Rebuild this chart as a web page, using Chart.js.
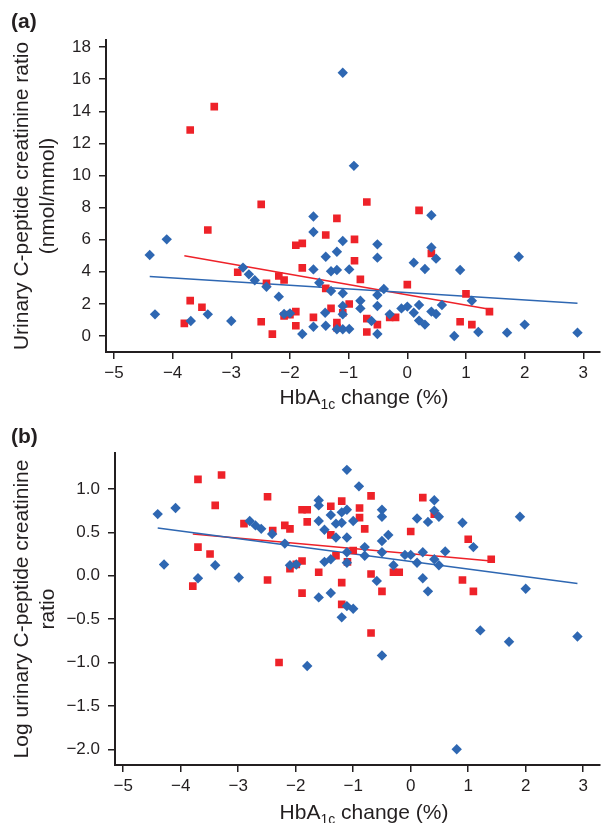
<!DOCTYPE html>
<html>
<head>
<meta charset="utf-8">
<script src="https://cdn.jsdelivr.net/npm/chart.js@4/dist/chart.umd.min.js"></script>
<style>
  html, body { margin: 0; padding: 0; background: #ffffff; }
  #wrap { position: relative; width: 605px; height: 823px; }
  canvas { position: absolute; left: 0; }
</style>
</head>
<body>
<div id="wrap">
  <canvas id="chartA" width="605" height="420" style="top:0px"></canvas>
  <canvas id="chartB" width="605" height="403" style="top:420px"></canvas>
</div>
<script>
// ---------- Panel (a): urinary C-peptide creatinine ratio ----------
const aBlueX = [-1.10, -0.91, -4.39, -4.10, -4.30, -3.69, -3.40, -3.00, -2.80, -2.70,
                -2.60, -2.40, -2.19, -2.10, -2.00, -1.79, -1.60, -1.60, -1.60, -1.60,
                -1.50, -1.40, -1.39, -1.39, -1.30, -1.30, -1.20, -1.20, -1.20, -1.10,
                -1.10, -1.10, -1.10, -1.10, -0.99, -0.99, 0.41, -0.51, -0.51, 0.41,
                0.49, 0.11, 0.30, 0.90, 1.90, -0.40, -0.51, -0.80, -0.80, -0.51,
                -0.30, -0.10, 0.00, 0.11, 0.20, 0.41, 0.49, 0.59, 1.10, -0.61,
                0.20, 0.30, -0.51, 0.80, 1.21, 1.70, 2.00, 2.90];
const aBlueY = [16.4, 10.6, 5.05, 6.02, 1.35, 0.93, 1.35, 0.93, 4.26, 3.84,
                3.47, 3.07, 2.45, 1.37, 1.41, 0.12, 7.44, 6.48, 4.15, 0.58,
                3.32, 1.45, 4.94, 0.64, 2.80, 4.03, 4.11, 5.25, 0.42, 5.92,
                2.66, 1.87, 1.35, 0.42, 4.15, 0.44, 7.52, 5.71, 4.88, 5.52,
                4.82, 4.57, 4.17, 4.11, 4.94, 2.93, 2.55, 2.20, 1.72, 1.87,
                1.35, 1.72, 1.83, 1.45, 1.93, 1.52, 1.37, 1.93, 2.20, 0.93,
                0.96, 0.71, 0.12, 0.00, 0.25, 0.21, 0.71, 0.21];
const aRedX = [-3.29, -3.70, -2.49, -3.40, -1.20, -1.39, -0.90, -1.90, -1.79, -0.90,
               -1.79, -2.89, -2.40, -2.19, -2.10, -1.39, -1.30, -0.99, -1.10, -0.80,
               -3.70, -3.50, -3.80, -2.49, -2.30, -2.10, -2.00, -1.90, -1.90, -1.60,
               -1.20, -1.20, -0.69, 0.20, 0.41, 0.00, 1.00, 1.40, -0.69, -0.30,
               -0.20, -0.51, 0.90, 1.10, -0.69];
const aRedY = [14.29, 12.83, 8.20, 6.60, 7.33, 6.29, 6.02, 5.65, 5.77, 4.69,
               4.24, 3.97, 3.28, 3.74, 3.49, 2.97, 1.72, 1.99, 1.45, 3.53,
               2.20, 1.79, 0.79, 0.89, 0.12, 1.25, 1.33, 1.52, 0.64, 1.16,
               0.83, 0.52, 8.35, 7.83, 5.15, 3.20, 2.62, 1.52, 1.08, 1.16,
               1.16, 0.71, 0.89, 0.71, 0.25];
const aBlueFitX = [-4.39, 2.90];
const aBlueFitY = [3.70, 2.04];
const aRedFitX = [-3.80, 1.40];
const aRedFitY = [5.00, 1.66];
const aYTicks = [0, 2, 4, 6, 8, 10, 12, 14, 16, 18];

// ---------- Panel (b): log urinary C-peptide creatinine ratio ----------
const bBlueX = [-1.11, -4.40, -4.09, -4.29, -3.70, -3.40, -2.99, -2.80, -2.70, -2.60,
                -2.41, -2.19, -2.10, -1.99, -1.80, -1.60, -1.60, -1.60, -1.60, -1.50,
                -1.50, -1.39, -1.39, -1.39, -1.30, -1.30, -1.20, -1.20, -1.11, -1.11,
                -1.11, -1.11, -1.11, -1.20, -1.00, -1.00, -0.90, 0.41, 0.41, 0.49,
                1.90, 0.90, 0.11, 0.30, -0.50, -0.50, -0.39, -0.50, -0.80, -0.80,
                -0.50, -0.30, -0.10, 0.00, 0.11, 0.21, 0.41, 0.49, 0.60, 1.09,
                -0.59, 0.21, 0.30, 2.00, 1.21, 1.71, 2.90, -0.50, 0.80];
const bBlueY = [1.22, 0.71, 0.78, 0.13, -0.03, 0.12, -0.02, 0.63, 0.58, 0.54,
                0.48, 0.37, 0.12, 0.13, -1.04, 0.87, 0.81, 0.63, -0.25, 0.53,
                0.16, 0.70, 0.19, -0.20, 0.60, 0.44, 0.61, 0.73, 0.76, 0.44,
                0.27, 0.15, -0.35, -0.48, -0.38, 0.63, 1.03, 0.87, 0.75, 0.68,
                0.68, 0.61, 0.66, 0.62, 0.76, 0.68, 0.47, 0.40, 0.33, 0.23,
                0.27, 0.12, 0.24, 0.24, 0.15, 0.27, 0.19, 0.12, 0.28, 0.33,
                -0.06, -0.03, -0.18, -0.15, -0.63, -0.76, -0.70, -0.92, -2.00];
const bRedX = [-3.70, -3.29, -3.40, -2.49, -2.90, -3.70, -3.49, -3.79, -2.49, -2.40,
               -2.19, -2.10, -2.29, -1.89, -1.80, -1.80, -1.99, -1.89, -2.10, -1.89,
               -1.60, -1.39, -1.39, -1.30, -1.20, -1.20, -1.20, -1.10, -1.00, -0.89,
               -0.89, -0.69, 0.21, -0.80, 0.41, 0.00, 1.00, 1.40, -0.69, -0.30,
               -0.20, -0.50, 0.90, 1.09, -0.69];
const bRedY = [1.11, 1.16, 0.81, 0.91, 0.60, 0.33, 0.25, -0.12, -0.05, 0.52,
               0.58, 0.54, -1.00, 0.76, 0.76, 0.62, 0.13, 0.17, 0.08, -0.20,
               0.04, 0.80, 0.47, 0.23, 0.86, -0.08, -0.33, 0.16, 0.29, 0.78,
               0.67, 0.92, 0.90, 0.54, 0.71, 0.51, 0.42, 0.19, 0.02, 0.04,
               0.04, -0.18, -0.05, -0.18, -0.66];
const bBlueFitX = [-4.40, 2.90];
const bBlueFitY = [0.55, -0.09];
const bRedFitX = [-3.79, 1.40];
const bRedFitY = [0.48, 0.17];
const bYTicks = [-2.0, -1.5, -1.0, -0.5, 0.0, 0.5, 1.0];

// ---------- shared ----------
const xTicks = [-5, -4, -3, -2, -1, 0, 1, 2, 3];
const xTitleParts = ['HbA', '1c', ' change (%)'];
const aYTitle = ['Urinary C-peptide creatinine ratio', '(nmol/mmol)'];
const bYTitle = ['Log urinary C-peptide creatinine', 'ratio'];

const BLUE = '#2e67b2';
const RED = '#ee2229';
const AXIS = '#231f20';
const TEXT = '#231f20';
const FONT = "'Liberation Sans', Arial, Helvetica, sans-serif";

function pts(xs, ys) { return xs.map((x, i) => ({ x: x, y: ys[i] })); }
function minus(s) { return String(s).replace('-', '\u2212'); }

function panelPlugin(label, labelBaseline, titleCx, titleBaseline) {
  return {
    id: 'panelText',
    afterDraw(chart) {
      const ctx = chart.ctx;
      ctx.save();
      ctx.fillStyle = TEXT;
      ctx.textBaseline = 'alphabetic';
      ctx.textAlign = 'left';
      ctx.font = 'bold 21px ' + FONT;
      ctx.fillText(label, 11, labelBaseline);
      // x-axis title with subscript
      const big = '21px ' + FONT, small = '14px ' + FONT;
      ctx.font = big; const w0 = ctx.measureText(xTitleParts[0]).width;
      ctx.font = small; const w1 = ctx.measureText(xTitleParts[1]).width;
      ctx.font = big; const w2 = ctx.measureText(xTitleParts[2]).width;
      let x = titleCx - (w0 + w1 + w2) / 2;
      ctx.font = big; ctx.fillText(xTitleParts[0], x, titleBaseline); x += w0;
      ctx.font = small; ctx.fillText(xTitleParts[1], x, titleBaseline + 5); x += w1;
      ctx.font = big; ctx.fillText(xTitleParts[2], x, titleBaseline);
      ctx.restore();
    }
  };
}

function makeChart(id, cfg) {
  const datasets = [
    { type: 'line', data: pts(cfg.blueFitX, cfg.blueFitY), borderColor: BLUE, borderWidth: 1.5,
      pointRadius: 0, fill: false, order: 3 },
    { type: 'line', data: pts(cfg.redFitX, cfg.redFitY), borderColor: RED, borderWidth: 1.5,
      pointRadius: 0, fill: false, order: 3 },
    { type: 'scatter', data: pts(cfg.redX, cfg.redY), pointStyle: 'rect', pointRadius: 5.4,
      backgroundColor: RED, borderColor: RED, borderWidth: 0, order: 2 },
    { type: 'scatter', data: pts(cfg.blueX, cfg.blueY), pointStyle: 'rectRot', pointRadius: 5.2,
      backgroundColor: BLUE, borderColor: BLUE, borderWidth: 0, order: 1 }
  ];
  return new Chart(document.getElementById(id), {
    type: 'scatter',
    data: { datasets: datasets },
    options: {
      responsive: false,
      animation: false,
      devicePixelRatio: 1,
      layout: { padding: { left: 0, top: cfg.top, right: 2, bottom: 0 } },
      plugins: { legend: { display: false }, tooltip: { enabled: false } },
      scales: {
        x: {
          type: 'linear', min: cfg.xMin, max: cfg.xMax,
          afterBuildTicks: (s) => { s.ticks = xTicks.map(v => ({ value: v })); },
          afterFit: (s) => { s.height = cfg.xAxisH; },
          grid: { drawOnChartArea: false, drawTicks: true, tickLength: 7, color: AXIS, lineWidth: 1.5 },
          border: { display: true, color: AXIS, width: 2 },
          ticks: { color: TEXT, font: { family: FONT, size: 17 }, padding: 4,
                   maxRotation: 0, autoSkip: false, callback: (v) => minus(v) }
        },
        y: {
          type: 'linear', min: cfg.yMin, max: cfg.yMax,
          afterBuildTicks: (s) => { s.ticks = cfg.yTicks.map(v => ({ value: v })); },
          afterFit: (s) => { s.width = cfg.yAxisW; },
          grid: { drawOnChartArea: false, drawTicks: true, tickLength: 7, color: AXIS, lineWidth: 1.5 },
          border: { display: true, color: AXIS, width: 2 },
          ticks: { color: TEXT, font: { family: FONT, size: 17 }, padding: 8, autoSkip: false,
                   callback: (v) => minus(cfg.yDec ? Number(v).toFixed(cfg.yDec) : v) },
          title: { display: true, text: cfg.yTitle, color: TEXT,
                   font: { family: FONT, size: 21, lineHeight: 1.24 }, padding: { top: 9, bottom: 0 } }
        }
      }
    },
    plugins: [panelPlugin(cfg.label, cfg.labelBaseline, cfg.titleCx, cfg.titleBaseline)]
  });
}

makeChart('chartA', {
  blueX: aBlueX, blueY: aBlueY, redX: aRedX, redY: aRedY,
  blueFitX: aBlueFitX, blueFitY: aBlueFitY, redFitX: aRedFitX, redFitY: aRedFitY,
  xMin: -5.135, xMax: 3.277, yMin: -0.997, yMax: 18.44, yTicks: aYTicks, yDec: 0,
  top: 40, xAxisH: 420 - 352, yAxisW: 106, yTitle: aYTitle,
  label: '(a)', labelBaseline: 28, titleCx: 364, titleBaseline: 404
});

makeChart('chartB', {
  blueX: bBlueX, blueY: bBlueY, redX: bRedX, redY: bRedY,
  blueFitX: bBlueFitX, blueFitY: bBlueFitY, redFitX: bRedFitX, redFitY: bRedFitY,
  xMin: -5.143, xMax: 3.285, yMin: -2.181, yMax: 1.414, yTicks: bYTicks, yDec: 1,
  top: 453 - 420, xAxisH: 403 - (765 - 420), yAxisW: 115, yTitle: bYTitle,
  label: '(b)', labelBaseline: 443 - 420, titleCx: 364, titleBaseline: 819 - 420
});
</script>
</body>
</html>
